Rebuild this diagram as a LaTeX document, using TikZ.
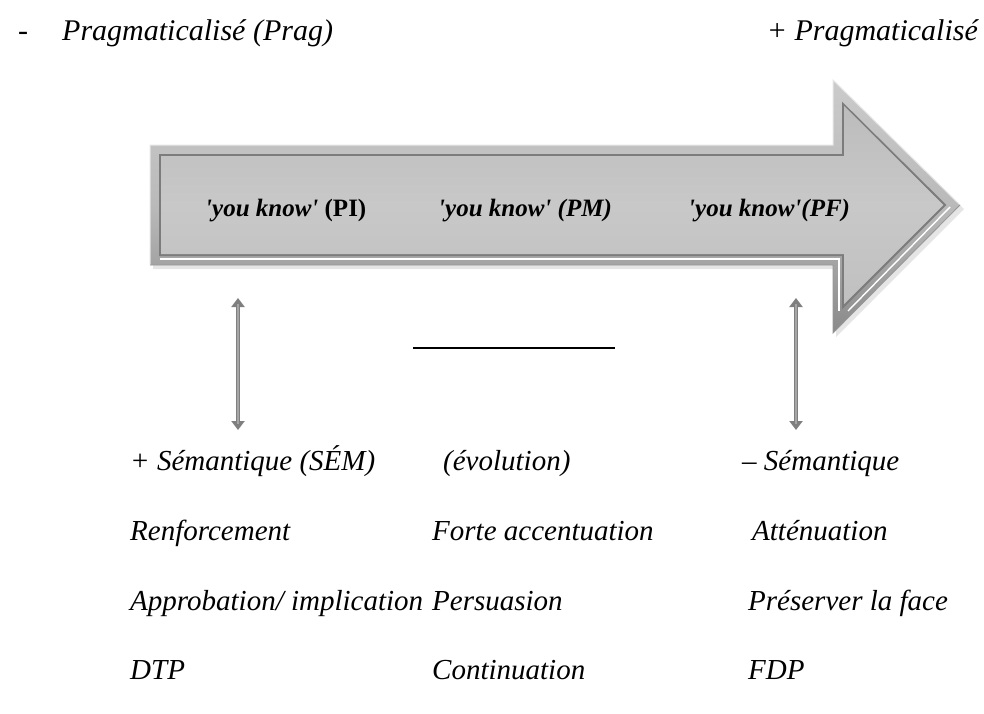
\documentclass[tikz,border=0pt]{standalone}
\usepackage{fontspec}
\setmainfont{Liberation Serif}
\usetikzlibrary{arrows.meta}
\definecolor{bevelgray}{HTML}{A2A2A2}
\definecolor{beveldark}{HTML}{7C7C7C}
\definecolor{bevellight}{HTML}{E6E6E6}
\definecolor{silverface}{HTML}{C8C8C8}
\definecolor{dblgray}{HTML}{7F7F7F}
\definecolor{dbllight}{HTML}{A6A6A6}
\tikzset{
  txt/.style={inner sep=0pt, anchor=base west, font=\fontsize{29}{34}\selectfont\itshape},
  toptxt/.style={txt, font=\fontsize{30}{35}\selectfont\itshape},
  lbl/.style={inner sep=0pt, anchor=base west, font=\fontsize{25}{30}\selectfont\bfseries\itshape},
  dblarrow/.style={dblgray, line width=4.5pt, {Triangle[width=13pt,length=9pt]}-{Triangle[width=13pt,length=9pt]}},
  dblcore/.style={dbllight, line width=1.4pt, shorten >=6pt, shorten <=6pt}
}
\begin{document}
\begin{tikzpicture}[x=1pt,y=-1pt]
\useasboundingbox (0,0) rectangle (984,713);
% --- big arrow: soft shadow ---
\fill[gray!20] (153,149) -- (836,149) -- (836,85) -- (964,209) -- (836,337) -- (836,269) -- (153,269) -- cycle;
% bevel body
\shade[top color=bevellight!60!bevelgray, bottom color=bevelgray!85!black, middle color=bevelgray!75!white]
  (150,145) -- (833,145) -- (833,80) -- (960,205) -- (833,333) -- (833,265) -- (150,265) -- cycle;
\draw[bevellight, line width=1pt]
  (150,265) -- (150,145) -- (833,145) -- (833,80) -- (960,205);
\draw[beveldark!80!white, line width=0.8pt]
  (960,205) -- (833,333) -- (833,265) -- (150,265);
% inner bevel rim
\draw[beveldark, line width=2pt, line join=miter]
  (160,155) -- (843,155) -- (843,104) -- (945,205) -- (843,307) -- (843,255) -- (160,255) -- cycle;
% face
\shade[top color=silverface!94!black, bottom color=silverface!96!black, middle color=silverface]
  (161,156) -- (844,156) -- (844,106) -- (943,205) -- (844,304) -- (844,254) -- (161,254) -- cycle;
% lower highlights
\draw[white, line width=1.4pt] (160,259) -- (839,259) -- (839,311);
\draw[white, line width=1.4pt] (950,207) -- (848,311);
% --- labels in the arrow ---
\node[lbl] (pi) at (205,216) {\textquotesingle you know\textquotesingle\ \upshape(PI)};
\node[lbl] (pm) at (438,216) {\textquotesingle you know\textquotesingle\ (PM)};
\node[lbl] (pf) at (688,216) {\textquotesingle you know\textquotesingle(PF)};
% --- top texts ---
\node[toptxt, font=\fontsize{30}{35}\selectfont] (minus) at (18,40) {-};
\node[toptxt] (prag) at (62,40) {Pragmaticalisé (Prag)};
\node[toptxt, anchor=base east] (pprag) at (978,40) {+ Pragmaticalisé};
% --- double arrows ---
\coordinate (la1) at (238,298);
\coordinate (la2) at (238,430);
\coordinate (ra1) at (796,298);
\coordinate (ra2) at (796,430);
\draw[dblarrow] (la1) -- (la2);
\draw[dblcore] (la1) -- (la2);
\draw[dblarrow] (ra1) -- (ra2);
\draw[dblcore] (ra1) -- (ra2);
% --- horizontal line ---
\coordinate (h1) at (413,348);
\coordinate (h2) at (615,348);
\draw[black, line width=1.6pt] (h1) -- (h2);
% --- bottom rows ---
\node[txt] (s1) at (130,470) {+ Sémantique (SÉM)};
\node[txt] (s2) at (443,470) {(évolution)};
\node[txt] (s3) at (742,470) {– Sémantique};
\node[txt] (r1) at (130,540) {Renforcement};
\node[txt] (r2) at (432,540) {Forte accentuation};
\node[txt] (r3) at (752,540) {Atténuation};
\node[txt] (a1) at (130,610) {Approbation/ implication};
\node[txt] (a2) at (432,610) {Persuasion};
\node[txt] (a3) at (748,610) {Préserver la face};
\node[txt] (d1) at (130,679) {DTP};
\node[txt] (d2) at (432,679) {Continuation};
\node[txt] (d3) at (748,679) {FDP};
\end{tikzpicture}
\end{document}
